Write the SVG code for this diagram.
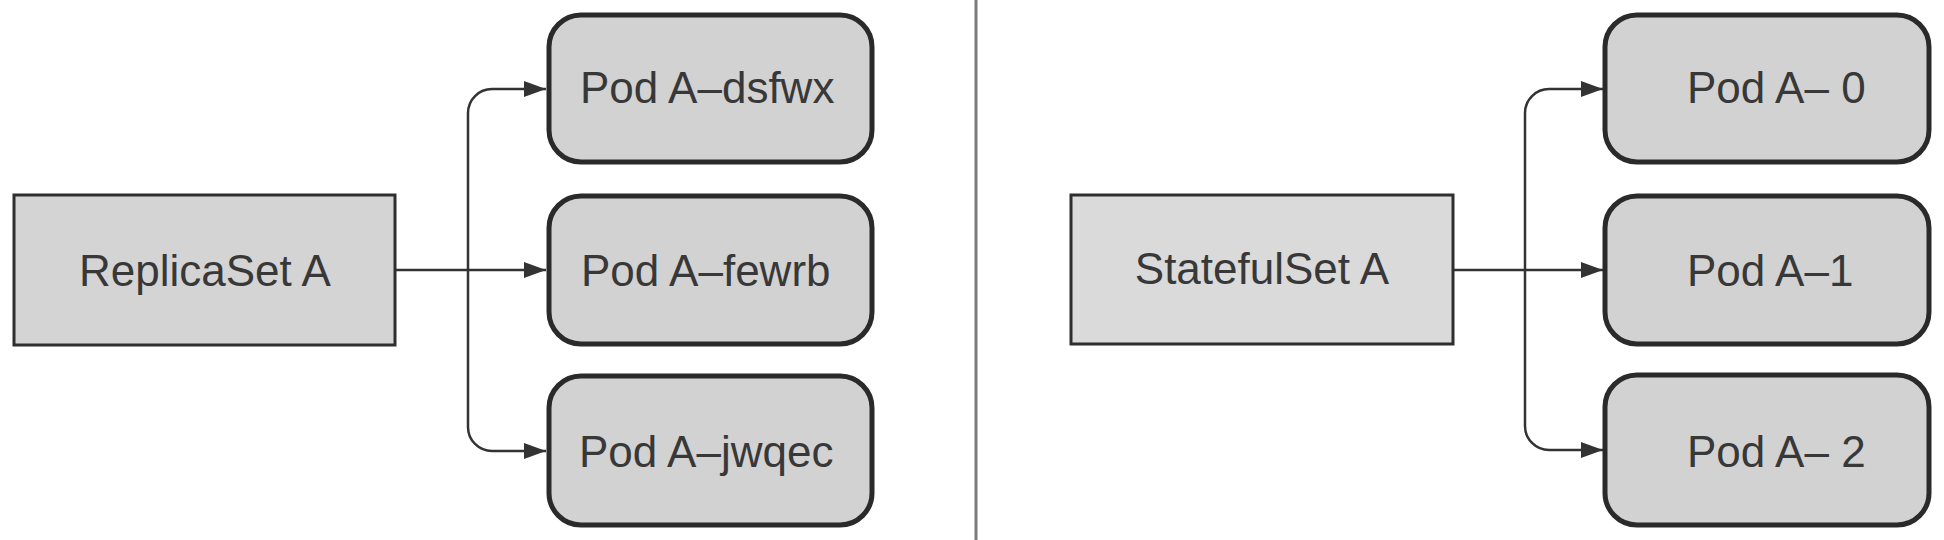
<svg xmlns="http://www.w3.org/2000/svg" width="1944" height="540" viewBox="0 0 1944 540">
  <style>
    .set { fill: #d4d4d4; stroke: #2e2e2e; stroke-width: 3; }
    .set2 { fill: #dadada; stroke: #2e2e2e; stroke-width: 3; }
    .pod { fill: #d2d2d2; stroke: #2a2a2a; stroke-width: 5; }
    .lbl { font-family: "Liberation Sans", Arial, Helvetica, sans-serif; font-size: 44px; fill: #383838; }
    .conn { fill: none; stroke: #333333; stroke-width: 2.5; }
    .divider { stroke: #7a7a7a; stroke-width: 3; }
  </style>
  <defs>
    <marker id="arrow" viewBox="0 0 22 16" refX="22" refY="8" markerWidth="22" markerHeight="16" markerUnits="userSpaceOnUse" orient="auto">
      <path d="M0,0 L22,8 L0,16 Z" fill="#333333"/>
    </marker>
  </defs>
  <rect x="0" y="0" width="1944" height="540" fill="#ffffff"/>

  <line id="divider" class="divider" x1="976" y1="0" x2="976" y2="540"/>

  <g id="connectors">
    <path class="conn" d="M395,270 H546" marker-end="url(#arrow)"/>
    <path class="conn" d="M468,270 V113 A24,24 0 0 1 492,89 H546" marker-end="url(#arrow)"/>
    <path class="conn" d="M468,270 V427 A24,24 0 0 0 492,451 H546" marker-end="url(#arrow)"/>
    <path class="conn" d="M1453,270 H1603" marker-end="url(#arrow)"/>
    <path class="conn" d="M1525,270 V113 A24,24 0 0 1 1549,89 H1603" marker-end="url(#arrow)"/>
    <path class="conn" d="M1525,270 V426 A24,24 0 0 0 1549,450 H1603" marker-end="url(#arrow)"/>
  </g>

  <g id="replicaset-a">
    <rect class="set" x="14" y="195" width="381" height="150"/>
    <text class="lbl" x="205" y="286" text-anchor="middle">ReplicaSet A</text>
  </g>
  <g id="pod-a-dsfwx">
    <rect class="pod" x="549" y="15" width="323" height="147" rx="32" ry="32"/>
    <text class="lbl" x="580" y="103">Pod A–dsfwx</text>
  </g>
  <g id="pod-a-fewrb">
    <rect class="pod" x="549" y="196" width="323" height="148" rx="32" ry="32"/>
    <text class="lbl" x="581" y="286">Pod A–fewrb</text>
  </g>
  <g id="pod-a-jwqec">
    <rect class="pod" x="549" y="376" width="323" height="149" rx="32" ry="32"/>
    <text class="lbl" x="579" y="467">Pod A–jwqec</text>
  </g>

  <g id="statefulset-a">
    <rect class="set2" x="1071" y="195" width="382" height="149"/>
    <text class="lbl" x="1262" y="284" text-anchor="middle">StatefulSet A</text>
  </g>
  <g id="pod-a-0">
    <rect class="pod" x="1605" y="15" width="324" height="147" rx="32" ry="32"/>
    <text class="lbl" x="1687" y="103">Pod A– 0</text>
  </g>
  <g id="pod-a-1">
    <rect class="pod" x="1605" y="196" width="324" height="148" rx="32" ry="32"/>
    <text class="lbl" x="1687" y="286">Pod A–1</text>
  </g>
  <g id="pod-a-2">
    <rect class="pod" x="1605" y="375" width="324" height="150" rx="32" ry="32"/>
    <text class="lbl" x="1687" y="467">Pod A– 2</text>
  </g>
</svg>
